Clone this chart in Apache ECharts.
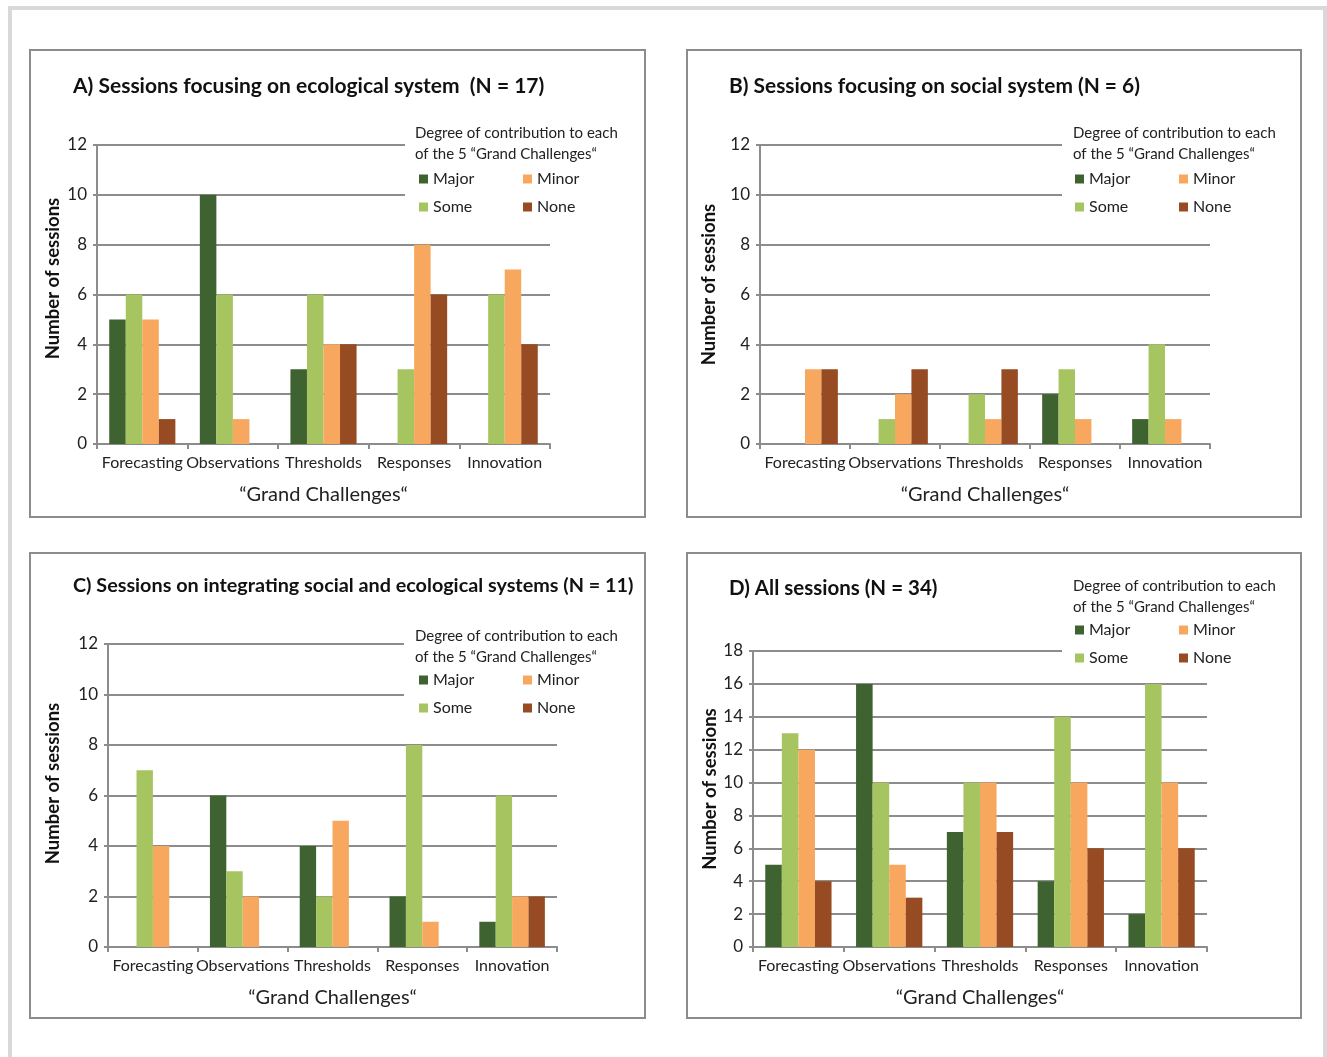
<!DOCTYPE html>
<html>
<head>
<meta charset="utf-8">
<script src="https://cdn.jsdelivr.net/npm/echarts@6/dist/echarts.min.js"></script>
<style>
html,body{margin:0;padding:0;background:#fff;}
#chart{width:1327px;height:1057px;}
</style>
</head>
<body>
<div id="chart"></div>
<script>
// ---- Data ----
const categories = ['Forecasting', 'Observations', 'Thresholds', 'Responses', 'Innovation'];
const degreeNames = ['Major', 'Some', 'Minor', 'None'];

const A_major = [5, 10, 3, 0, 0];
const A_some  = [6, 6, 6, 3, 6];
const A_minor = [5, 1, 4, 8, 7];
const A_none  = [1, 0, 4, 6, 4];

const B_major = [0, 0, 0, 2, 1];
const B_some  = [0, 1, 2, 3, 4];
const B_minor = [3, 2, 1, 1, 1];
const B_none  = [3, 3, 3, 0, 0];

const C_major = [0, 6, 4, 2, 1];
const C_some  = [7, 3, 2, 8, 6];
const C_minor = [4, 2, 5, 1, 2];
const C_none  = [0, 0, 0, 0, 2];

const D_major = [5, 16, 7, 4, 2];
const D_some  = [13, 10, 10, 14, 16];
const D_minor = [12, 5, 10, 10, 10];
const D_none  = [4, 3, 7, 6, 6];

const titles = [
  'A) Sessions focusing on ecological system  (N = 17)',
  'B) Sessions focusing on social system (N = 6)',
  'C) Sessions on integrating social and ecological systems (N = 11)',
  'D) All sessions (N = 34)'
];
const yMaxes = [12, 12, 12, 18];
const xAxisName = '\u201CGrand Challenges\u201C';
const yAxisName = 'Number of sessions';
const legendTitle = 'Degree of contribution to each\nof the 5 \u201CGrand Challenges\u201C';

// ---- Styling / layout ----
const FONT = "Lato, 'Open Sans', sans-serif";
const colors = { Major: '#3F6330', Some: '#A6C460', Minor: '#F8A85E', None: '#964B22' };
const GRIDC = '#8c8c8c';

const panelData = [
  [A_major, A_some, A_minor, A_none],
  [B_major, B_some, B_minor, B_none],
  [C_major, C_some, C_minor, C_none],
  [D_major, D_some, D_minor, D_none]
];

const grids = [
  { left: 97,  top: 145, width: 453, height: 299 },
  { left: 760, top: 145, width: 450, height: 299 },
  { left: 108, top: 644, width: 449, height: 303 },
  { left: 753, top: 651, width: 454, height: 296 }
];
const yNameGaps = [34, 41, 45, 33];
const yNameShift = [32, 20, 24, 20];
const titleSizes = [21, 20.9, 19.8, 20.5];
const boxes = [
  { x: 30,  y: 50,  w: 615, h: 467 },
  { x: 687, y: 50,  w: 614, h: 467 },
  { x: 30,  y: 553, w: 615, h: 465 },
  { x: 687, y: 553, w: 614, h: 465 }
];
const titlePos = [[73, 86], [729, 86], [73, 586], [729, 588]];
const legendTitlePos = [[415, 123], [1073, 123], [415, 626], [1073, 576]];
const legendPos = [[419, 170], [1075, 170], [419, 671], [1075, 621]];
const coverRects = [
  { x: 405, y: 116, w: 230, h: 106 },
  { x: 1062, y: 116, w: 230, h: 106 },
  { x: 404, y: 618, w: 230, h: 106 },
  { x: 1062, y: 566, w: 230, h: 106 }
];

const xAxes = [], yAxes = [], series = [], legends = [], graphics = [];

graphics.push({ type: 'rect', shape: { x: 10, y: 8, width: 1315, height: 1070 },
  style: { fill: 'none', stroke: '#d9d9d9', lineWidth: 4 }, z: 0 });

grids.forEach((g, i) => {
  xAxes.push({
    type: 'category', gridIndex: i, data: categories,
    axisLine: { show: true, lineStyle: { color: GRIDC, width: 2 } },
    axisTick: { show: true, length: 5, lineStyle: { color: GRIDC, width: 2 } },
    axisLabel: { color: '#222', fontSize: 16, fontFamily: FONT, margin: 11, interval: 0 },
    name: xAxisName, nameLocation: 'middle', nameGap: 41,
    nameTextStyle: { color: '#222', fontSize: 20, fontFamily: FONT }
  });
  yAxes.push({
    type: 'value', gridIndex: i, min: 0, max: yMaxes[i], interval: 2,
    axisLine: { show: true, lineStyle: { color: GRIDC, width: 2 } },
    axisTick: { show: true, length: 4, lineStyle: { color: GRIDC, width: 2 } },
    axisLabel: { color: '#222', fontSize: 17, fontFamily: FONT, margin: 10 },
    splitLine: { show: true, lineStyle: { color: GRIDC, width: 2 } },
    name: yAxisName, nameLocation: 'middle', nameGap: yNameGaps[i], nameRotate: 90,
    nameTextStyle: { color: '#111', fontSize: 18.5, fontWeight: 'bold', fontFamily: FONT,
      padding: [0, 0, 0, yNameShift[i]] }
  });
  degreeNames.forEach((n, k) => {
    series.push({
      type: 'bar', name: n, xAxisIndex: i, yAxisIndex: i,
      data: panelData[i][k], barGap: '0%', barCategoryGap: '27%',
      itemStyle: { color: colors[n] }, z: 5
    });
  });
  legends.push({
    orient: 'vertical', left: legendPos[i][0], top: legendPos[i][1], height: 46,
    padding: 0, itemGap: 10, itemWidth: 9, itemHeight: 9, itemTextGap: 6,
    data: degreeNames.map(n => ({ name: n, icon: 'rect' })),
    selectedMode: false, z: 10,
    textStyle: { color: '#222', fontSize: 16, fontFamily: FONT, width: 80, lineHeight: 18 }
  });
  const b = boxes[i];
  graphics.push({ type: 'rect', shape: { x: b.x, y: b.y, width: b.w, height: b.h },
    style: { fill: 'none', stroke: '#8c8c8c', lineWidth: 2 }, z: 1 });
  const c = coverRects[i];
  graphics.push({ type: 'rect', shape: { x: c.x, y: c.y, width: c.w, height: c.h },
    style: { fill: '#fff' }, z: 2 });
  graphics.push({ type: 'text', x: titlePos[i][0], y: titlePos[i][1], z: 3,
    style: { text: titles[i], fill: '#111', font: "bold " + titleSizes[i] + "px " + FONT, textVerticalAlign: 'middle' } });
  graphics.push({ type: 'text', x: legendTitlePos[i][0], y: legendTitlePos[i][1], z: 3,
    style: { text: legendTitle, fill: '#222', font: "15px " + FONT, lineHeight: 21, textVerticalAlign: 'top' } });
});

const chart = echarts.init(document.getElementById('chart'), null, { renderer: 'canvas' });
chart.setOption({
  animation: false,
  backgroundColor: '#fff',
  grid: grids.map(g => Object.assign({ containLabel: false }, g)),
  xAxis: xAxes,
  yAxis: yAxes,
  legend: legends,
  series: series,
  graphic: graphics
});
</script>
</body>
</html>
